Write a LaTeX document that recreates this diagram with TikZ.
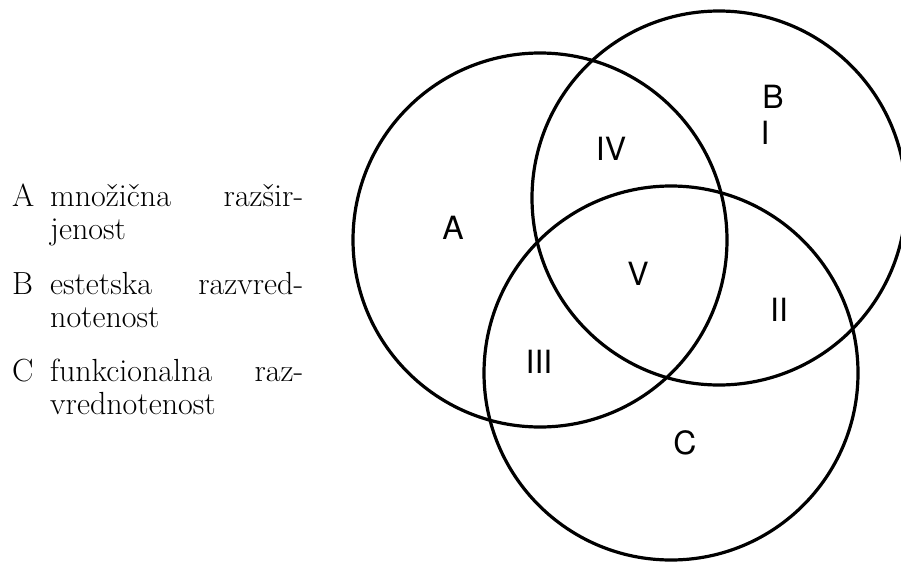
\documentclass[tikz,border=0pt]{standalone}
\usepackage{fontspec}
\newfontfamily\venfont{TeX Gyre Heros}
\newcommand\keyletter[1]{\makebox[38pt][l]{#1}}

\begin{document}
\begin{tikzpicture}[x=1pt,y=-1pt,
    set/.style={line width=3.2pt},
    region/.style={font=\venfont\fontsize{32}{32}\selectfont, inner sep=0pt},
    legend/.style={font=\fontsize{32}{33}\selectfont, text width=291pt,
        align=justify, inner sep=0pt, anchor=base west}]
    \useasboundingbox (0,0) rectangle (901,562);

    \draw[set] (540,240) circle[radius=187pt];
    \draw[set] (719,198) circle[radius=187pt];
    \draw[set] (671,373) circle[radius=187pt];

    \node[region] (labA) at (453,228) {A};
    \node[region] (labB) at (773,97) {B};
    \node[region] (labC) at (685,443) {C};
    \node[region] (regI) at (765,133) {I};
    \node[region] (regII) at (779,310) {II};
    \node[region] (regIII) at (539,362) {III};
    \node[region] (regIV) at (611,149) {IV};
    \node[region] (regV) at (638,274) {V};

    \node[legend] (keyA) at (12,206)
        {\noindent\hangindent=38pt\hangafter=1 \keyletter{A}množična razšir-\linebreak jenost\par};
    \node[legend] (keyB) at (12,294)
        {\noindent\hangindent=38pt\hangafter=1 \keyletter{B}estetska razvred-\linebreak notenost\par};
    \node[legend] (keyC) at (12,381)
        {\noindent\hangindent=38pt\hangafter=1 \keyletter{C}funkcionalna raz-\linebreak vrednotenost\par};
\end{tikzpicture}
\end{document}
